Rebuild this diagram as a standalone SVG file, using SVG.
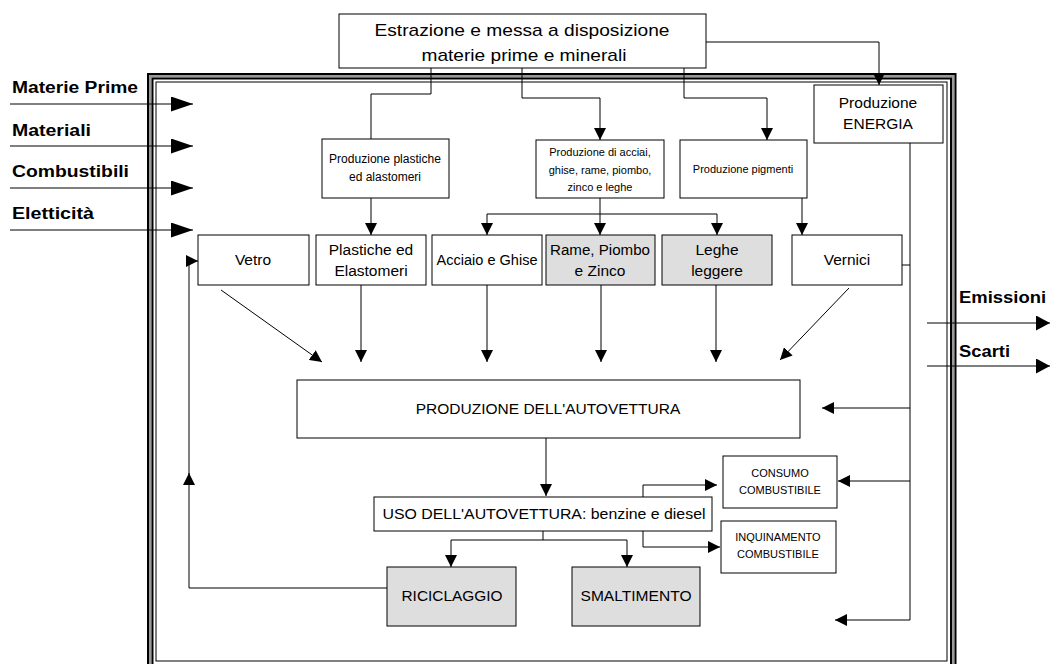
<svg xmlns="http://www.w3.org/2000/svg" width="1050" height="664" viewBox="0 0 1050 664">
<style>
  text { font-family: "Liberation Sans", Arial, sans-serif; fill: #000; }
  .box { fill: #fff; stroke: #000; stroke-width: 1; }
  .shade { fill: #dedede; stroke: #000; stroke-width: 1; }
  .ln { fill: none; stroke: #000; stroke-width: 1; }
  .lbl { font-weight: bold; font-size: 16px; }
  .t14 { font-size: 15.5px; text-anchor: middle; }
  .t12 { font-size: 12px; text-anchor: middle; }
  .t11 { font-size: 11px; text-anchor: middle; }
</style>
<defs>
  <marker id="am" markerUnits="userSpaceOnUse" markerWidth="12" markerHeight="12" refX="12" refY="6" orient="auto">
    <path d="M0,0 L12,6 L0,12 z" fill="#000"/>
  </marker>
  <marker id="ab" markerUnits="userSpaceOnUse" markerWidth="22" markerHeight="15" refX="22" refY="7.5" orient="auto">
    <path d="M0,0 L22,7.5 L0,15 z" fill="#000"/>
  </marker>
  <marker id="ar" markerUnits="userSpaceOnUse" markerWidth="14" markerHeight="15" refX="14" refY="7.5" orient="auto">
    <path d="M0,0 L14,7.5 L0,15 z" fill="#000"/>
  </marker>
</defs>
<rect width="1050" height="664" fill="#fff"/>

<!-- frame -->
<g id="frame">
  <path d="M150,676 V76 H953 V676" fill="none" stroke="#999" stroke-width="3"/>
  <path d="M148,676 V74 H955.5 V676" fill="none" stroke="#000" stroke-width="2"/>
  <path d="M152.5,676 V78.5 H951 V676" fill="none" stroke="#000" stroke-width="2"/>
  <rect x="156" y="82" width="791" height="579" fill="none" stroke="#000" stroke-width="1"/>
</g>

<!-- connectors -->
<g id="connectors">
  <path class="ln" d="M431,68 V94 H371 V139"/>
  <path class="ln" d="M522,68 V98 H600 V140" marker-end="url(#am)"/>
  <path class="ln" d="M684,68 V98 H767 V140" marker-end="url(#am)"/>
  <path class="ln" d="M706,42 H879 V85" marker-end="url(#am)"/>
  <path class="ln" d="M371,198 V235" marker-end="url(#am)"/>
  <path class="ln" d="M600,198 V235" marker-end="url(#am)"/>
  <path class="ln" d="M600,214 H487 V235" marker-end="url(#am)"/>
  <path class="ln" d="M600,214 H717 V235" marker-end="url(#am)"/>
  <path class="ln" d="M802,198 V235" marker-end="url(#am)"/>
  <path class="ln" d="M902,265 H910"/>
  <path class="ln" d="M910,143 V620 H835" marker-end="url(#am)"/>
  <path class="ln" d="M910,408 H822" marker-end="url(#am)"/>
  <path class="ln" d="M910,481 H838" marker-end="url(#am)"/>
  <path class="ln" d="M221,290 L322,362" marker-end="url(#am)"/>
  <path class="ln" d="M361,285 V362" marker-end="url(#am)"/>
  <path class="ln" d="M487,285 V362" marker-end="url(#am)"/>
  <path class="ln" d="M601,285 V362" marker-end="url(#am)"/>
  <path class="ln" d="M716,285 V362" marker-end="url(#am)"/>
  <path class="ln" d="M849,288 L780,360" marker-end="url(#am)"/>
  <path class="ln" d="M546,438 V496" marker-end="url(#am)"/>
  <path class="ln" d="M543,531 V540"/>
  <path class="ln" d="M543,540 H451 V567" marker-end="url(#am)"/>
  <path class="ln" d="M543,540 H627 V567" marker-end="url(#am)"/>
  <path class="ln" d="M643,497 V485 H717" marker-end="url(#am)"/>
  <path class="ln" d="M643,531 V547 H720" marker-end="url(#am)"/>
  <path class="ln" d="M387,588 H189 V473" marker-end="url(#am)"/>
  <path class="ln" d="M189,474 V261 H198" marker-end="url(#am)"/>
  <!-- external inputs -->
  <path class="ln" d="M10,104 H193" marker-end="url(#ab)"/>
  <path class="ln" d="M10,146 H193" marker-end="url(#ab)"/>
  <path class="ln" d="M10,188 H193" marker-end="url(#ab)"/>
  <path class="ln" d="M10,230 H193" marker-end="url(#ab)"/>
  <!-- outputs -->
  <path class="ln" d="M927,323 H1050" marker-end="url(#ar)"/>
  <path class="ln" d="M927,366 H1050" marker-end="url(#ar)"/>
</g>

<!-- labels -->
<g id="labels">
  <text class="lbl" x="12" y="93" textLength="126" lengthAdjust="spacingAndGlyphs">Materie Prime</text>
  <text class="lbl" x="12" y="136" textLength="79" lengthAdjust="spacingAndGlyphs">Materiali</text>
  <text class="lbl" x="12" y="177" textLength="117" lengthAdjust="spacingAndGlyphs">Combustibili</text>
  <text class="lbl" x="12" y="219" textLength="82" lengthAdjust="spacingAndGlyphs">Eletticità</text>
  <text class="lbl" x="959" y="303" textLength="87" lengthAdjust="spacingAndGlyphs">Emissioni</text>
  <text class="lbl" x="959" y="357" textLength="51" lengthAdjust="spacingAndGlyphs">Scarti</text>
</g>

<g id="n-estrazione">
  <rect class="box" x="339" y="14" width="367" height="54"/>
  <text x="522" y="36" font-size="17" text-anchor="middle" textLength="295" lengthAdjust="spacingAndGlyphs">Estrazione e messa a disposizione</text>
  <text x="524" y="61" font-size="17" text-anchor="middle" textLength="205" lengthAdjust="spacingAndGlyphs">materie prime e minerali</text>
</g>

<g id="n-plastiche-prod">
  <rect class="box" x="322" y="139" width="127" height="59"/>
  <text class="t12" x="385" y="163" textLength="112" lengthAdjust="spacingAndGlyphs">Produzione plastiche</text>
  <text class="t12" x="385" y="181">ed alastomeri</text>
</g>

<g id="n-acciai-prod">
  <rect class="box" x="536" y="140" width="128" height="58"/>
  <text class="t11" x="600" y="156">Produzione di acciai,</text>
  <text class="t11" x="600" y="174">ghise, rame, piombo,</text>
  <text class="t11" x="600" y="191">zinco e leghe</text>
</g>

<g id="n-pigmenti">
  <rect class="box" x="680" y="140" width="127" height="58"/>
  <text class="t11" x="743" y="173">Produzione pigmenti</text>
</g>

<g id="n-energia">
  <rect class="box" x="814" y="85" width="129" height="58"/>
  <text class="t14" x="878" y="108">Produzione</text>
  <text class="t14" x="878" y="129">ENERGIA</text>
</g>

<g id="n-vetro">
  <rect class="box" x="198" y="235" width="111" height="50"/>
  <text class="t14" x="253" y="265">Vetro</text>
</g>
<g id="n-plastiche">
  <rect class="box" x="316" y="235" width="110" height="50"/>
  <text class="t14" x="371" y="255">Plastiche ed</text>
  <text class="t14" x="371" y="276">Elastomeri</text>
</g>
<g id="n-acciaio">
  <rect class="box" x="432" y="235" width="110" height="50"/>
  <text class="t14" x="487" y="265" textLength="101" lengthAdjust="spacingAndGlyphs">Acciaio e Ghise</text>
</g>
<g id="n-rame">
  <rect class="shade" x="546" y="235" width="109" height="50"/>
  <text class="t14" x="600" y="255" textLength="100" lengthAdjust="spacingAndGlyphs">Rame, Piombo</text>
  <text class="t14" x="600" y="276">e Zinco</text>
</g>
<g id="n-leghe">
  <rect class="shade" x="662" y="235" width="110" height="50"/>
  <text class="t14" x="717" y="255">Leghe</text>
  <text class="t14" x="717" y="276">leggere</text>
</g>
<g id="n-vernici">
  <rect class="box" x="792" y="235" width="110" height="50"/>
  <text class="t14" x="847" y="265">Vernici</text>
</g>

<g id="n-produzione">
  <rect class="box" x="297" y="380" width="503" height="58"/>
  <text class="t14" x="548" y="414">PRODUZIONE DELL'AUTOVETTURA</text>
</g>

<g id="n-uso">
  <rect class="box" x="374" y="497" width="338" height="34"/>
  <text class="t14" x="544" y="519" textLength="323" lengthAdjust="spacingAndGlyphs">USO DELL'AUTOVETTURA: benzine e diesel</text>
</g>

<g id="n-consumo">
  <rect class="box" x="723" y="456" width="114" height="52"/>
  <text class="t11" x="780" y="477">CONSUMO</text>
  <text class="t11" x="780" y="494">COMBUSTIBILE</text>
</g>
<g id="n-inquinamento">
  <rect class="box" x="721" y="521" width="115" height="52"/>
  <text class="t11" x="778" y="541">INQUINAMENTO</text>
  <text class="t11" x="778" y="558">COMBUSTIBILE</text>
</g>

<g id="n-riciclaggio">
  <rect class="shade" x="387" y="567" width="129" height="59"/>
  <text class="t14" x="452" y="601" textLength="101" lengthAdjust="spacingAndGlyphs">RICICLAGGIO</text>
</g>
<g id="n-smaltimento">
  <rect class="shade" x="572" y="567" width="128" height="59"/>
  <text class="t14" x="636" y="601" textLength="111" lengthAdjust="spacingAndGlyphs">SMALTIMENTO</text>
</g>
</svg>
